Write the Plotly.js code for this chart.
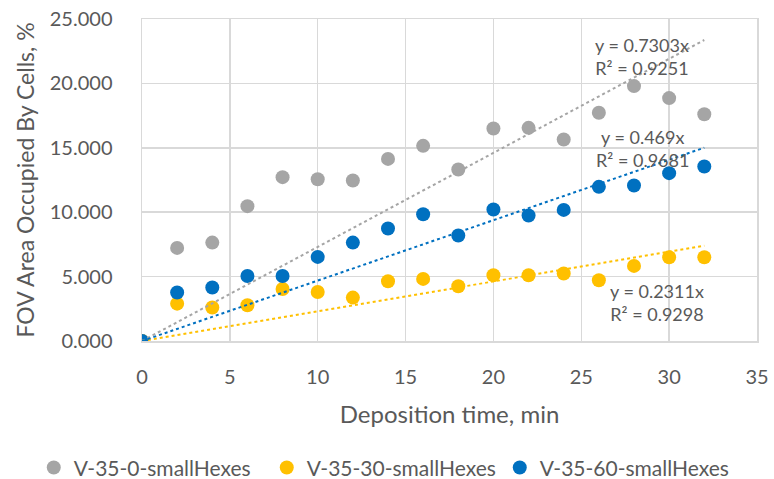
<!DOCTYPE html>
<html>
<head>
<meta charset="utf-8">
<script src="https://cdn.plot.ly/plotly-3.0.1.min.js"></script>
<style>html,body{margin:0;padding:0;background:#fff;}#chart{width:774px;height:479px;}</style>
</head>
<body>
<div id="chart"></div>
<script>
// Deposition time, min
const times = [0, 2, 4, 6, 8, 10, 12, 14, 16, 18, 20, 22, 24, 26, 28, 30, 32];
// FOV area occupied by cells, %
const seriesNames = ["V-35-0-smallHexes", "V-35-30-smallHexes", "V-35-60-smallHexes"];
const v35_0  = [0, 7.23, 7.64, 10.47, 12.72, 12.56, 12.46, 14.14, 15.15, 13.32, 16.50, 16.55, 15.65, 17.72, 19.79, 18.86, 17.61];
const v35_30 = [0, 2.90, 2.60, 2.77, 4.04, 3.81, 3.37, 4.64, 4.82, 4.25, 5.10, 5.10, 5.24, 4.72, 5.83, 6.50, 6.50];
const v35_60 = [0, 3.76, 4.15, 5.05, 5.05, 6.53, 7.64, 8.73, 9.84, 8.19, 10.21, 9.74, 10.18, 11.97, 12.07, 13.03, 13.55];
// Linear trendlines through origin (as labelled on the chart)
const slopes = [0.7303, 0.2311, 0.469];
const r2 = [0.9251, 0.9298, 0.9681];
const xTicks = [0, 5, 10, 15, 20, 25, 30, 35];
const yTicks = [0, 5, 10, 15, 20, 25];

const colors = ["#A5A5A5", "#FFC000", "#0070C0"];
const allY = [v35_0, v35_30, v35_60];
const FONT = "Lato, 'Open Sans', sans-serif";
const TXT = "#595959";

const traces = [];
allY.forEach((ys, i) => {
  traces.push({
    type: "scatter", mode: "markers", name: seriesNames[i],
    x: times, y: ys,
    marker: {color: colors[i], size: 14},
    hoverinfo: "skip"
  });
});
const trendX = [times[0], times[times.length - 1]];
slopes.forEach((s, i) => {
  traces.push({
    type: "scatter", mode: "lines", showlegend: false,
    x: trendX, y: trendX.map(t => s * t),
    line: {color: colors[i], width: 2, dash: "dot"},
    hoverinfo: "skip"
  });
});

// label anchor positions (data coords)
const labelPos = [[28.44, 22.08], [29.31, 3.0], [28.46, 14.95]];
const annotations = slopes.map((s, i) => ({
  x: labelPos[i][0], y: labelPos[i][1], xref: "x", yref: "y",
  text: "y = " + s + "x<br>R² = " + r2[i].toFixed(4),
  showarrow: false, align: "center",
  font: {family: FONT, size: 18, color: TXT}
}));

const layout = {
  width: 774, height: 479,
  margin: {l: 142, r: 17, t: 19, b: 138, autoexpand: false},
  paper_bgcolor: "#fff", plot_bgcolor: "#fff",
  font: {family: FONT, size: 20, color: TXT},
  showlegend: true,
  legend: {orientation: "h", x: -0.176, xanchor: "left", y: -0.394, yanchor: "middle",
           font: {family: FONT, size: 21, color: TXT}, itemwidth: 30, traceorder: "normal",
           entrywidth: 188, entrywidthmode: "pixels"},
  xaxis: {
    range: [0, 35], tickvals: xTicks, ticktext: xTicks.map(String), automargin: false,
    showgrid: true, gridcolor: "#D9D9D9", gridwidth: 1.5,
    zeroline: false, showline: true, mirror: true, linecolor: "#D9D9D9", linewidth: 1.5,
    ticks: "", ticklabelstandoff: 17,
    tickfont: {family: FONT, size: 20, color: TXT},
    title: {text: "Deposition time, min", font: {family: FONT, size: 24, color: TXT}, standoff: 19}
  },
  yaxis: {
    range: [0, 25], tickvals: yTicks, ticktext: yTicks.map(v => v.toFixed(3)), automargin: false,
    showgrid: true, gridcolor: "#D9D9D9", gridwidth: 1.5,
    zeroline: false, showline: true, mirror: true, linecolor: "#D9D9D9", linewidth: 1.5,
    ticks: "", ticklabelstandoff: 24,
    tickfont: {family: FONT, size: 20, color: TXT},
    title: {text: "FOV Area Occupied By Cells, %", font: {family: FONT, size: 23, color: TXT}, standoff: 8}
  },
  annotations: annotations
};

Plotly.newPlot("chart", traces, layout, {staticPlot: true});
</script>
</body>
</html>
